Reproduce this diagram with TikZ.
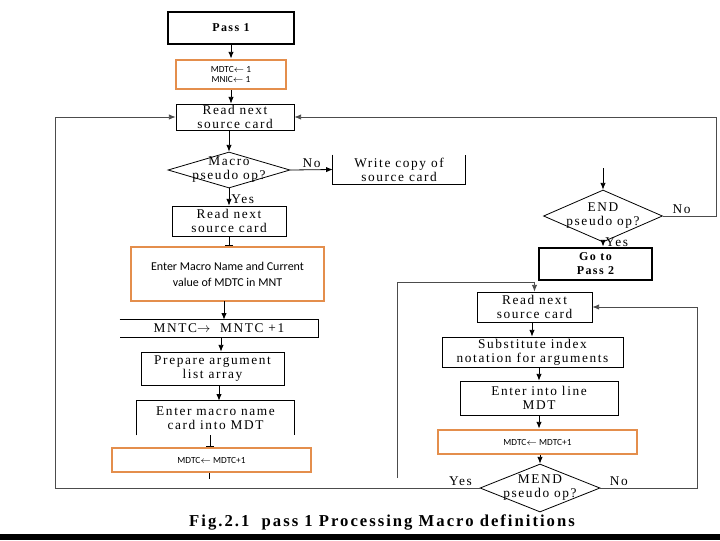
\documentclass[tikz,border=0pt]{standalone}
\usepackage{fontspec}
\setmainfont{Liberation Serif}
\newfontfamily\flowfont[LetterSpace=12]{Liberation Serif}
\newfontfamily\boxfont{Carlito}
\usetikzlibrary{arrows.meta,positioning,shapes.geometric}

\definecolor{boxorange}{RGB}{228,142,76}

\begin{document}
\begin{tikzpicture}[x=0.75pt, y=-0.75pt,
  every node/.style={font=\flowfont\fontsize{10}{10.5}\selectfont},
  proc/.style={rectangle, draw, line width=0.6pt, align=center, inner sep=0pt},
  openbox/.style={rectangle, align=center, inner sep=0pt},
  term/.style={rectangle, draw, line width=2.2pt, align=center, inner sep=0pt, font=\flowfont\bfseries\fontsize{9}{10.5}\selectfont},
  setbox/.style={rectangle, draw=boxorange, line width=2.2pt, align=center, inner sep=0pt, font=\boxfont\fontsize{7}{8}\selectfont},
  decide/.style={diamond, draw, line width=0.6pt, inner sep=0pt},
  qtext/.style={align=center, inner sep=0pt},
  lbl/.style={inner sep=1.5pt},
  arrow/.style={-{Latex[length=5pt,width=4pt]}, line width=0.6pt},
  stub/.style={-{Bar[width=6pt]}, line width=0.6pt},
  loopline/.style={line width=0.6pt, draw=black!70}
]
\useasboundingbox (0,0) rectangle (720,540);

% Left column: macro definition
\node[term, minimum width=94.5pt, minimum height=24pt] (pass1) at (231,28) {Pass 1};
\node[setbox, minimum width=82.5pt, minimum height=21.75pt] (init) at (231,74.5) {MDTC$\leftarrow$ 1\\MNIC$\leftarrow$ 1};
\node[proc, minimum width=88.5pt, minimum height=19.5pt] (read1) at (235,117) {Read next\\source card};
\node[decide, minimum width=91.5pt, minimum height=27pt, label={[qtext]center:Macro\\pseudo op?}] (macroq) at (229,170) {};
\node[openbox, minimum width=99pt, minimum height=21.75pt] (write) at (399,169.5) {Write copy of\\source card};
\node[proc, minimum width=85.5pt, minimum height=22.5pt] (read2) at (229,221) {Read next\\source card};
\node[setbox, minimum width=144.75pt, minimum height=40.5pt, font=\boxfont\fontsize{9}{12}\selectfont] (enter) at (227.5,274) {Enter Macro Name and Current\\value of MDTC in MNT};
\node[openbox, minimum width=148.5pt, minimum height=12.75pt] (mntc) at (219,328.5) {MNTC$\rightarrow$\ \ MNTC +1};
\node[proc, minimum width=107.25pt, minimum height=24.75pt] (prep) at (212.5,368.5) {Prepare argument\\list array};
\node[openbox, minimum width=117.75pt, minimum height=25.5pt] (macname) at (215.5,418) {Enter macro name\\card into MDT};
\node[setbox, minimum width=149.25pt, minimum height=18pt] (mdtcl) at (211.5,460) {MDTC$\leftarrow$ MDTC+1};
\coordinate (leftend) at (209,479);

% Right column: macro body
\coordinate (endin) at (603,168);
\node[decide, minimum width=89.25pt, minimum height=39pt, label={[qtext]center:END\\pseudo op?}] (endq) at (603,216) {};
\node[term, minimum width=84.75pt, minimum height=24pt] (pass2) at (595.5,264) {Go to\\Pass 2};
\node[proc, minimum width=86.25pt, minimum height=22.5pt] (read3) at (534.5,307) {Read next\\source card};
\node[proc, minimum width=135.75pt, minimum height=22.5pt] (subst) at (532.5,352) {Substitute index\\notation for arguments};
\node[proc, minimum width=118.5pt, minimum height=25.5pt] (mdtline) at (539,398) {Enter into line\\MDT};
\node[setbox, minimum width=149.25pt, minimum height=18pt] (mdtcr) at (537.5,442) {MDTC$\leftarrow$ MDTC+1};
\node[decide, minimum width=90pt, minimum height=36pt, label={[qtext]center:MEND\\pseudo op?}] (mendq) at (540,488) {};
\coordinate (loopin) at (397,478);

% Open box sides
\draw[line width=0.6pt] (write.north west) -- (write.south west) -- (write.south east) -- (write.north east);
\draw[line width=0.6pt] (mntc.north west) -- (mntc.north east) -- (mntc.south east) -- (mntc.south west);
\draw[line width=0.6pt] (macname.south west) -- (macname.north west) -- (macname.north east) -- (macname.south east);

% Arrows, left column
\draw[arrow] (pass1) -- (init);
\draw[arrow] (init.south) -- (init.south |- read1.north);
\draw[arrow] (read1.south -| macroq.north) -- (macroq.north);
\draw[arrow] (macroq.east) -- node[lbl, above]{No} (write.west);
\draw[arrow] (macroq.south) -- node[lbl, right, pos=0.6]{Yes} (read2.north);
\draw[stub] (read2.south) -- (read2.south |- enter.north);
\draw[arrow] (224,301) coordinate (enterout) -- (enterout |- mntc.north);
\draw[arrow] (mntc.south -| 221,0) -- (prep.north -| 221,0);
\draw[arrow] (prep.south -| 219,0) -- (macname.north -| 219,0);
\draw[stub] (macname.south -| 210,0) -- (mdtcl.north -| 210,0);
\draw[line width=0.6pt] (mdtcl.south -| leftend) -- (leftend);

% Arrows, right column
\draw[arrow] (endin) -- (endq.north);
\draw[arrow] (endq.south) -- node[lbl, anchor=west, pos=0]{Yes} (endq.south |- pass2.north);
\draw[arrow] (read3.south -| 532,0) -- (subst.north -| 532,0);
\draw[arrow] (subst.south -| 539,0) -- (mdtline.north -| 539,0);
\draw[arrow] (mdtline.south -| 539,0) -- (mdtcr.north -| 539,0);
\draw[arrow] (mdtcr.south -| mendq.north) -- (mendq.north);

% Loop back lines
\draw[loopline, arrow] (endq.east) -- node[lbl, above, pos=0.35, text=black]{No} (716,216) |- (read1.east);
\draw[loopline, arrow] (mendq.west) -- node[lbl, above, pos=0.045, text=black]{Yes} (55,488) |- (read1.west);
\draw[loopline, arrow] (mendq.east) -- node[lbl, above, pos=0.19, text=black]{No} (697,488) |- (read3.east);
\draw[loopline, arrow] (loopin) -- (397,282) -| (read3.north);

% Caption and bottom bar
\node[font=\flowfont\bfseries\fontsize{12.5}{14}\selectfont] (caption) at (382,522) {Fig.2.1\ \ pass 1 Processing Macro definitions};
\fill (0,534) rectangle (720,540);
\end{tikzpicture}
\end{document}
